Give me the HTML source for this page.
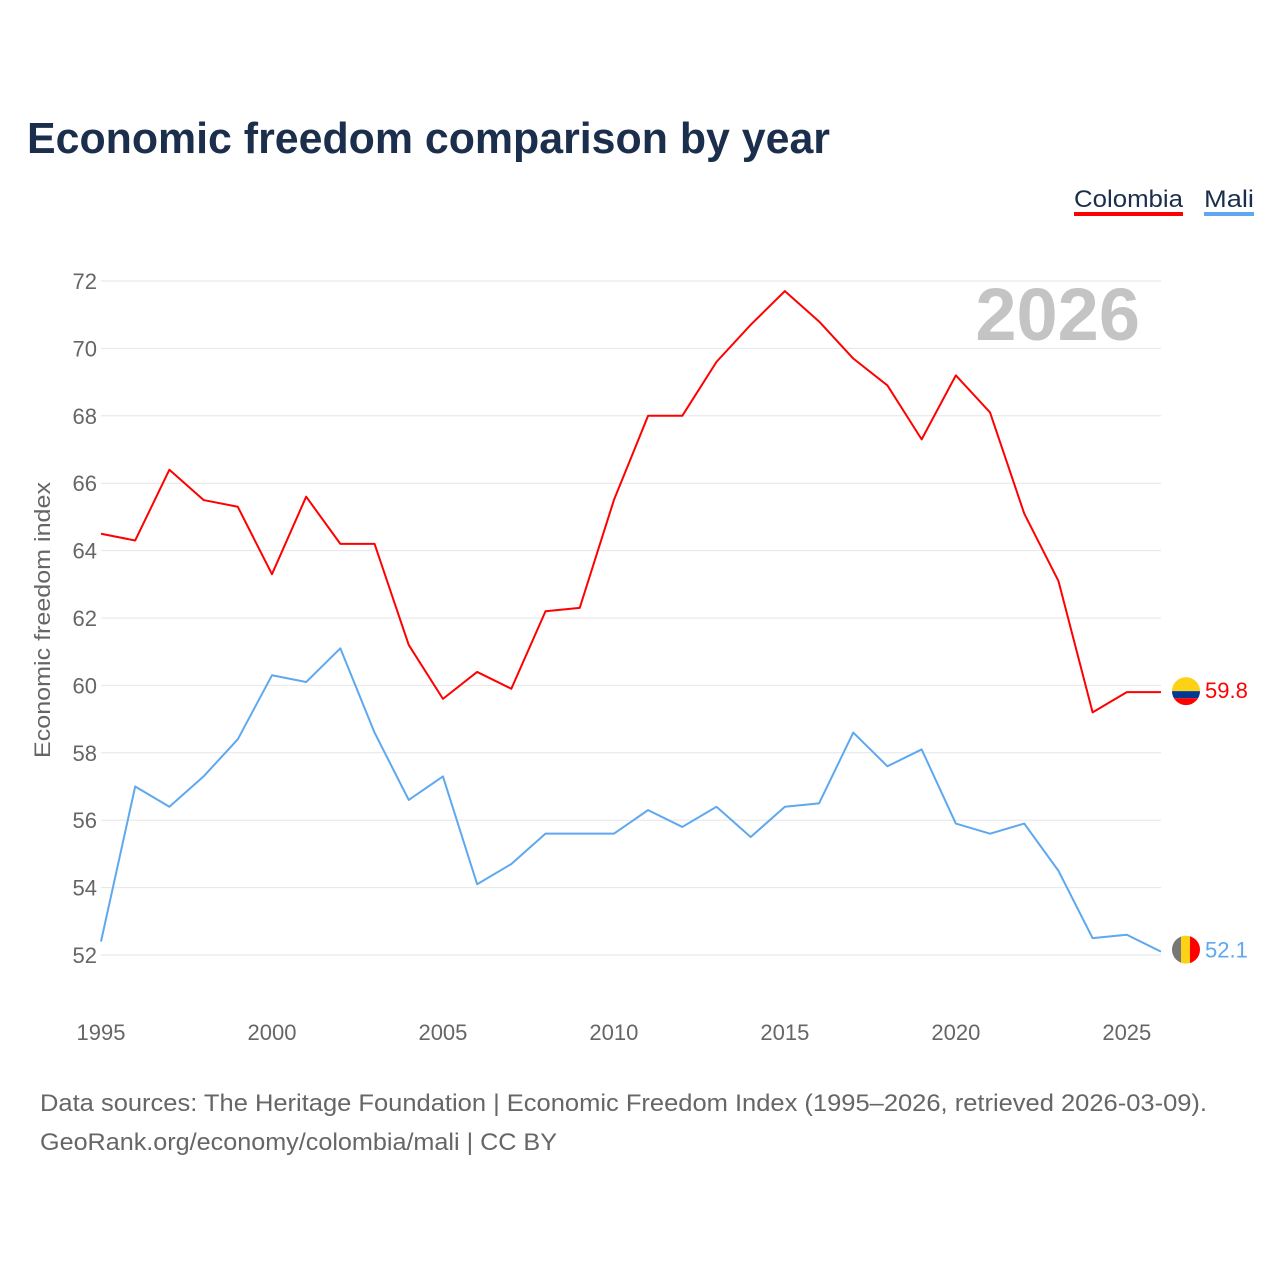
<!DOCTYPE html>
<html><head><meta charset="utf-8"><style>
body{margin:0;background:#fff;font-family:"Liberation Sans",sans-serif}
svg text{font-family:"Liberation Sans",sans-serif}
</style></head><body>
<svg id="c" width="1280" height="1280" xmlns="http://www.w3.org/2000/svg">
<rect width="1280" height="1280" fill="#fff"/>
<text x="27" y="153" font-size="44" font-weight="bold" fill="#1b2f4d" textLength="803" lengthAdjust="spacingAndGlyphs">Economic freedom comparison by year</text>
<g><text x="1074" y="207" font-size="24" fill="#1b2f4d" textLength="109" lengthAdjust="spacingAndGlyphs">Colombia</text><rect x="1074" y="212" width="109" height="4" fill="#f00"/></g>
<g><text x="1204" y="207" font-size="24" fill="#1b2f4d" textLength="50" lengthAdjust="spacingAndGlyphs">Mali</text><rect x="1204" y="212" width="50" height="4" fill="#5ea8ef"/></g>
<text x="1140" y="340" font-size="74" font-weight="bold" fill="#c4c4c4" text-anchor="end">2026</text>
<text transform="translate(50,620) rotate(-90)" font-size="22" fill="#666" text-anchor="middle" textLength="276" lengthAdjust="spacingAndGlyphs">Economic freedom index</text>
<g id="grid"></g><g id="series"></g>
<text x="40" y="1111" font-size="24" fill="#666" textLength="1167" lengthAdjust="spacingAndGlyphs">Data sources: The Heritage Foundation | Economic Freedom Index (1995–2026, retrieved 2026-03-09).</text>
<text x="40" y="1150" font-size="24" fill="#666" textLength="517" lengthAdjust="spacingAndGlyphs">GeoRank.org/economy/colombia/mali | CC BY</text>
</svg>
<script>
const years=[1995,1996,1997,1998,1999,2000,2001,2002,2003,2004,2005,2006,2007,2008,2009,2010,2011,2012,2013,2014,2015,2016,2017,2018,2019,2020,2021,2022,2023,2024,2025,2026];
const colombia=[64.5,64.3,66.4,65.5,65.3,63.3,65.6,64.2,64.2,61.2,59.6,60.4,59.9,62.2,62.3,65.5,68.0,68.0,69.6,70.7,71.7,70.8,69.7,68.9,67.3,69.2,68.1,65.1,63.1,59.2,59.8,59.8];
const mali=[52.4,57.0,56.4,57.3,58.4,60.3,60.1,61.1,58.6,56.6,57.3,54.1,54.7,55.6,55.6,55.6,56.3,55.8,56.4,55.5,56.4,56.5,58.6,57.6,58.1,55.9,55.6,55.9,54.5,52.5,52.6,52.1];
const yTicks=[52,54,56,58,60,62,64,66,68,70,72];
const xTicks=[1995,2000,2005,2010,2015,2020,2025];
const NS="http://www.w3.org/2000/svg";
const xs=y=>101+(y-1995)*(1161-101)/31;
const ys=v=>955-(v-52)*(955-281)/20;
function mk(t,a,p){const e=document.createElementNS(NS,t);for(const k in a)e.setAttribute(k,a[k]);p.appendChild(e);return e;}
const g=document.getElementById('grid'),s=document.getElementById('series');
yTicks.forEach(v=>{
 const l=mk('line',{x1:101,x2:1161,y1:ys(v),y2:ys(v),stroke:'#e6e6e6','stroke-width':1},g);
 
 
 const t=mk('text',{x:97,y:ys(v)+8,'font-size':22,fill:'#666','text-anchor':'end'},g);t.textContent=v;
 
 
});
xTicks.forEach(v=>{
 const t=mk('text',{x:xs(v),y:1040,'font-size':22,fill:'#666','text-anchor':'middle'},g);t.textContent=v;
 
 
});
function line(d,c,name){
 const p=mk('polyline',{points:d.map((v,i)=>xs(years[i])+','+ys(v)).join(' '),fill:'none',stroke:c,'stroke-width':2,'stroke-linejoin':'round'},s);
 
 
 const last=d[d.length-1],cy=ys(last);
 const t=mk('text',{x:1205,y:cy+6,'font-size':22,fill:c},s);t.textContent=last.toFixed(1);
 
 
 return cy;
}
const cy1=line(colombia,'#f00','colombia');
const cy2=line(mali,'#5ea8ef','mali');
let f=mk('g',{},s);


const cp1=mk('clipPath',{id:'c1'},f);mk('circle',{cx:1186,cy:cy1-1,r:14},cp1);
mk('rect',{x:1172,y:cy1-15,width:28,height:14,fill:'#fcd116','clip-path':'url(#c1)'},f);
mk('rect',{x:1172,y:cy1-1,width:28,height:7,fill:'#003893','clip-path':'url(#c1)'},f);
mk('rect',{x:1172,y:cy1+6,width:28,height:8,fill:'#f00','clip-path':'url(#c1)'},f);
let m=mk('g',{},s);


const cp=mk('clipPath',{id:'c2'},m);mk('circle',{cx:1186,cy:cy2-2,r:14},cp);
mk('rect',{x:1172,y:cy2-16,width:10,height:28,fill:'#777','clip-path':'url(#c2)'},m);
mk('rect',{x:1181,y:cy2-16,width:10,height:28,fill:'#fcd116','clip-path':'url(#c2)'},m);
mk('rect',{x:1190,y:cy2-16,width:10,height:28,fill:'#f00','clip-path':'url(#c2)'},m);
</script>
</body></html>
